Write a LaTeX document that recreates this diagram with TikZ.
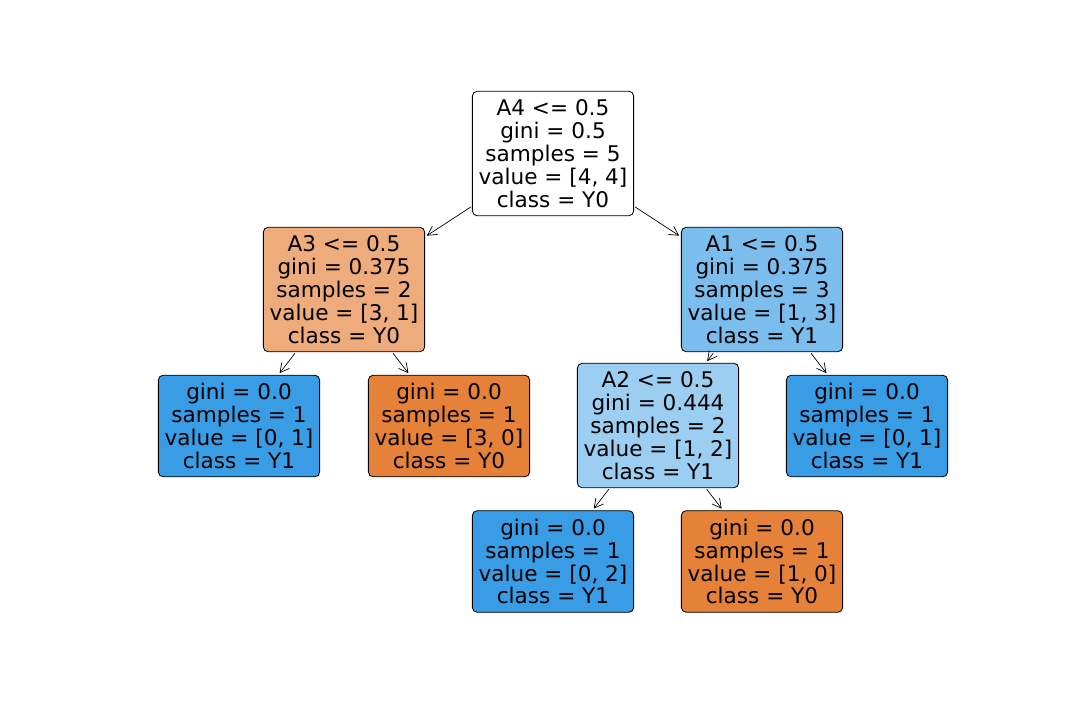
\documentclass[tikz,border=0pt]{standalone}
\usepackage{fontspec}
\setmainfont{DejaVu Sans}
\usetikzlibrary{arrows.meta}

\definecolor{orangefull}{HTML}{E58139}
\definecolor{orangelight}{HTML}{EEAB7B}
\definecolor{bluefull}{HTML}{399DE5}
\definecolor{bluemid}{HTML}{7BBEEE}
\definecolor{bluelight}{HTML}{9CCEF2}

\tikzset{
    treenode/.style={draw=black, line width=0.6pt, rounded corners=3.5pt, align=center,
        minimum width=116.6pt, inner sep=0pt,
        font=\fontsize{15.6}{16.6}\selectfont},
    splitnode/.style={treenode, minimum height=90pt},
    leafnode/.style={treenode, minimum height=73.4pt},
    treeedge/.style={-{Straight Barb[length=6.5pt,width=7pt]}, line width=0.5pt, shorten <=1pt, shorten >=1.5pt}
}

\begin{document}
\begin{tikzpicture}[x=0.0254cm, y=-0.0254cm]
    \useasboundingbox (0,0) rectangle (1080,720);

    % splits
    \node[splitnode, fill=white] (root) at (553,153.5) {A4 <= 0.5\\gini = 0.5\\samples = 5\\value = [4, 4]\\class = Y0};
    \node[splitnode, fill=orangelight] (splitA3) at (344,289.5) {A3 <= 0.5\\gini = 0.375\\samples = 2\\value = [3, 1]\\class = Y0};
    \node[splitnode, fill=bluemid] (splitA1) at (762,289.5) {A1 <= 0.5\\gini = 0.375\\samples = 3\\value = [1, 3]\\class = Y1};
    \node[splitnode, fill=bluelight] (splitA2) at (658,425.5) {A2 <= 0.5\\gini = 0.444\\samples = 2\\value = [1, 2]\\class = Y1};

    % leaves
    \node[leafnode, fill=bluefull] (leafA) at (239,426) {gini = 0.0\\samples = 1\\value = [0, 1]\\class = Y1};
    \node[leafnode, fill=orangefull] (leafB) at (449,426) {gini = 0.0\\samples = 1\\value = [3, 0]\\class = Y0};
    \node[leafnode, fill=bluefull] (leafC) at (867,426) {gini = 0.0\\samples = 1\\value = [0, 1]\\class = Y1};
    \node[leafnode, fill=bluefull] (leafD) at (553,561.5) {gini = 0.0\\samples = 1\\value = [0, 2]\\class = Y1};
    \node[leafnode, fill=orangefull] (leafE) at (762,561.5) {gini = 0.0\\samples = 1\\value = [1, 0]\\class = Y0};

    % edges
    \draw[treeedge] (root) -- (splitA3);
    \draw[treeedge] (root) -- (splitA1);
    \draw[treeedge] (splitA3) -- (leafA);
    \draw[treeedge] (splitA3) -- (leafB);
    \draw[treeedge] (splitA1) -- (splitA2);
    \draw[treeedge] (splitA1) -- (leafC);
    \draw[treeedge] (splitA2) -- (leafD);
    \draw[treeedge] (splitA2) -- (leafE);
\end{tikzpicture}
\end{document}
